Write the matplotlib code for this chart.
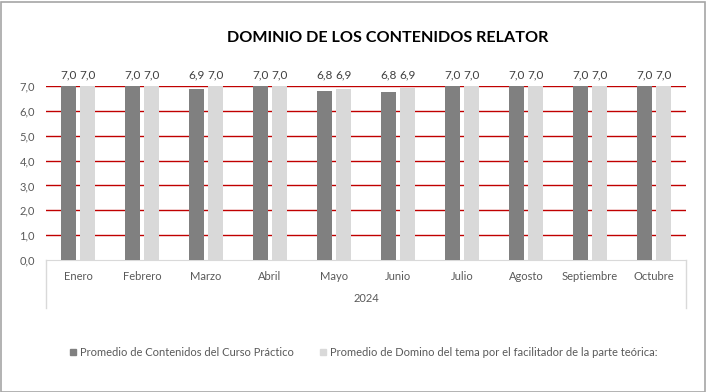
import matplotlib
matplotlib.use("Agg")
from matplotlib import pyplot as plt
import numpy as np

plt.rcParams['font.family'] = ['Lato', 'DejaVu Sans']

meses = ["Enero", "Febrero", "Marzo", "Abril", "Mayo", "Junio",
         "Julio", "Agosto", "Septiembre", "Octubre"]
practico = [7.0, 7.0, 6.86, 7.0, 6.8, 6.76, 7.0, 7.0, 7.0, 7.0]
teorico = [7.0, 7.0, 7.0, 7.0, 6.86, 6.92, 7.0, 7.0, 7.0, 7.0]
anio = "2024"
serie1 = "Promedio de Contenidos del Curso Práctico"
serie2 = "Promedio de Domino del tema por el facilitador de la parte teórica:"

W, H = 706, 392
fig = plt.figure(figsize=(W / 100, H / 100), dpi=100)
ax = fig.add_axes([46 / W, 1 - 260 / H, 640 / W, 174 / H])

x = np.arange(len(meses))
bw = 0.235
b1 = ax.bar(x - bw / 2 - 0.025, practico, bw, color="#808080", zorder=3)
b2 = ax.bar(x + bw / 2 + 0.025, teorico, bw, color="#D9D9D9", zorder=3)

for bars, vals in ((b1, practico), (b2, teorico)):
    for r, v in zip(bars, vals):
        ax.text(r.get_x() + r.get_width() / 2, 7.22, f"{v:.1f}".replace(".", ","),
                ha="center", va="bottom", fontsize=8.5, color="#404040", clip_on=False)

ax.set_xlim(-0.5, len(meses) - 0.5)
ax.set_ylim(0, 7)
ax.set_yticks(range(8))
ax.set_yticklabels([f"{v:.1f}".replace(".", ",") for v in range(8)], fontsize=8, color="#595959")
ax.tick_params(axis="y", length=0, pad=8)
ax.set_xticks(x)
ax.set_xticklabels(meses, fontsize=8, color="#595959")
ax.tick_params(axis="x", length=0, pad=8)
for yv in range(1, 8):
    ax.axhline(yv, color="#C00000", lw=1, zorder=1)
for s in ("top", "right", "left"):
    ax.spines[s].set_visible(False)
ax.spines["bottom"].set_color("#D9D9D9")

# caja de etiquetas del eje
for xp in (46, 686):
    fig.add_artist(plt.Line2D([xp / W, xp / W], [1 - 260 / H, 1 - 308 / H], color="#D9D9D9", lw=1))
fig.text(366 / W, 1 - 298 / H, anio, ha="center", va="center", fontsize=8, color="#595959")

fig.text(388 / W, 1 - 38 / H, "DOMINIO DE LOS CONTENIDOS RELATOR", ha="center", va="center",
         fontsize=11.6, fontweight="bold", color="black")

# leyenda
fig.patches.append(plt.Rectangle((70 / W, 1 - 355 / H), 6 / W, 6 / H, color="#808080",
                                 transform=fig.transFigure, figure=fig))
fig.text(80 / W, 1 - 352 / H, serie1, ha="left", va="center", fontsize=8.0, color="#595959")
fig.patches.append(plt.Rectangle((320 / W, 1 - 355 / H), 6 / W, 6 / H, color="#D9D9D9",
                                 transform=fig.transFigure, figure=fig))
fig.text(330 / W, 1 - 352 / H, serie2, ha="left", va="center", fontsize=8.0, color="#595959")

fig.patches.append(plt.Rectangle((0.5 / W, 0.5 / H), (W - 2) / W, (H - 2) / H, fill=False,
                                 edgecolor="#A6A6A6", lw=1.2, transform=fig.transFigure, figure=fig))

fig.savefig("out.png", dpi=100)
